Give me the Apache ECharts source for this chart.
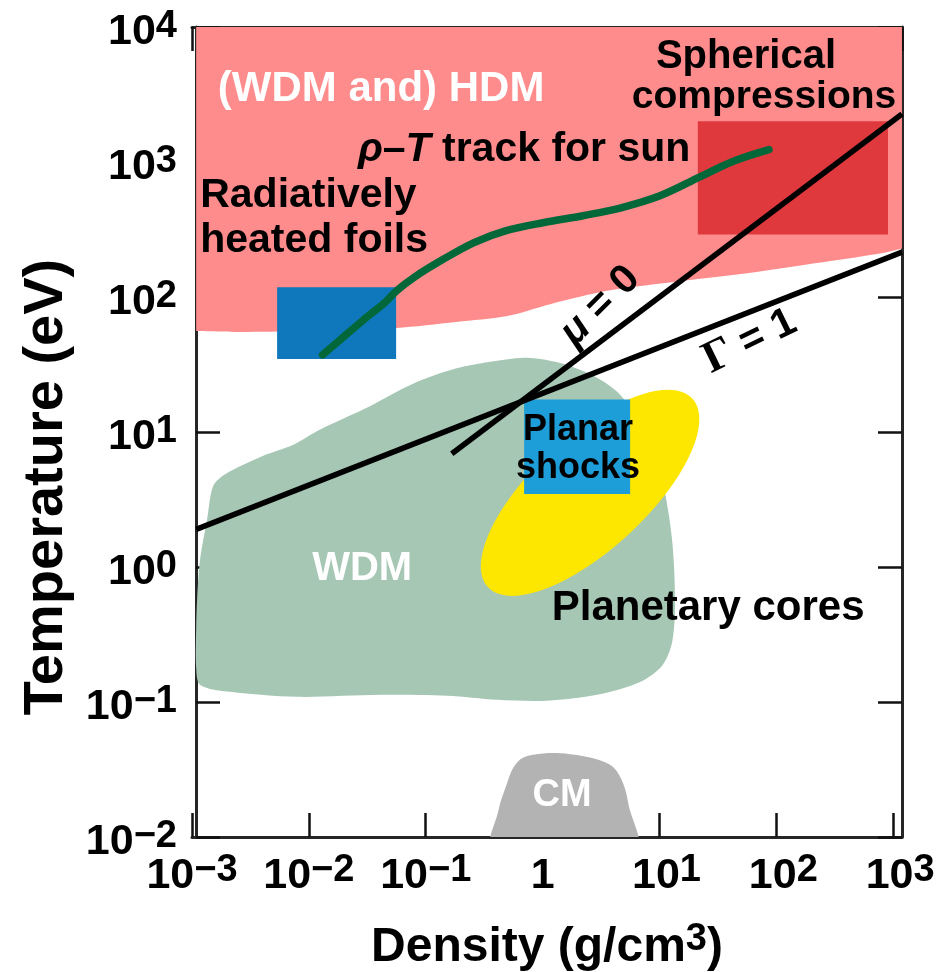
<!DOCTYPE html>
<html>
<head>
<meta charset="utf-8">
<script src="https://cdn.jsdelivr.net/npm/echarts@6/dist/echarts.min.js"></script>
<style>
  html, body { margin: 0; padding: 0; background: #ffffff; }
  #chart { width: 941px; height: 972px; }
</style>
</head>
<body>
<div id="chart"></div>
<script>
// Density–temperature map of matter regimes (density in g/cm3, temperature in eV)

// Axis extents
const densityRange = [0.001, 1190];
const temperatureRange = [0.01, 10000];

// Lower edge of the hot-dense-matter (HDM) region; the region fills up to the top
const hdmRho = [0.001086, 0.00258, 0.00843, 0.0558, 0.182, 0.497, 1.16, 3.78, 15.0, 56.1, 206, 771, 1189];
const hdmT   = [56.0, 55.1, 56.0, 58.9, 65.2, 72.2, 88.5, 112, 131, 150, 177, 210, 229];

// Warm-dense-matter (WDM) outline
const wdmRho = [0.001107, 0.001175, 0.001349, 0.001518, 0.001923, 0.00398, 0.00719, 0.0125, 0.0291, 0.078, 0.178,
                0.408, 0.782, 1.497, 2.93, 4.60, 7.53, 10.5, 12.8, 13.6, 12.8, 10.5, 6.82, 2.93, 1.09, 0.408,
                0.1525, 0.0407, 0.00794, 0.00212, 0.001175, 0.001086, 0.001086];
const wdmT   = [0.585, 1.153, 2.27, 3.98, 4.87, 6.61, 7.97, 10.45, 14.67, 22.8, 29.4,
                33.7, 35.4, 32.0, 25.2, 18.9, 10.45, 4.48, 1.62, 0.538, 0.273, 0.185, 0.1408, 0.113, 0.1021, 0.1038,
                0.1111, 0.113, 0.1092, 0.1189, 0.1338, 0.1786, 0.352];

// Condensed-matter (CM) outline
const cmRho = [0.379, 0.419, 0.494, 0.563, 0.685, 1.016, 1.72, 2.91, 4.03, 4.91, 5.42, 6.19];
const cmT   = [0.008, 0.01573, 0.0247, 0.03277, 0.0388, 0.0416, 0.0411, 0.0377, 0.0328, 0.0247, 0.01758, 0.008];

// Planetary cores: ends of the long axis, then one end of the short axis
const coresRho = [0.340, 19.1, 5.47];
const coresT   = [0.710, 17.7, 1.75];

// Experimental platforms (density range, temperature range)
const foilsRho = [0.00535, 0.0558];
const foilsT   = [34.8, 118];
const shocksRho = [0.695, 5.61];
const shocksT   = [3.47, 17.4];
const sphericalRho = [21.3, 903];
const sphericalT   = [290, 2004];

// Degeneracy (mu = 0) and coupling (Gamma = 1) boundaries
const muRho = [0.167, 1190];
const muT   = [6.9, 2270];
const gammaRho = [0.001086, 1190];
const gammaT   = [1.90, 215];

// Solar interior rho–T track
const sunRho = [0.0131, 0.0185, 0.0292, 0.0441, 0.0569, 0.0796, 0.141, 0.259, 0.488, 1.03, 2.22, 4.69, 10.1, 22.2, 43.4, 86.5];
const sunT   = [37.3, 48.1, 67.5, 90.0, 112, 140, 190, 253, 310, 356, 400, 458, 562, 775, 1017, 1236];

// Annotations: text and anchor (density, temperature)
const noteText = ['(WDM and) HDM', 'Spherical', 'compressions', '{it|ρ}{n|–}{it|T}{n| track for sun}',
                  'Radiatively\nheated foils', 'Planar\nshocks', 'WDM', 'Planetary cores', 'CM',
                  '{it|μ}{n| = 0}', '{gm|Γ}{n| = 1}'];
const noteRho = [0.0415, 55.0, 78.5, 0.695, 0.001175, 2.01, 0.0286, 26.1, 1.47, 3.10, 59.6];
const noteT   = [3448, 6035, 3000, 1230, 383, 7.44, 0.973, 0.4935, 0.02037, 86.0, 47.0];

// ---------------------------------------------------------------------------
const FONT = '"Liberation Sans", Arial, Helvetica, sans-serif';
const SERIF = '"Liberation Serif", "DejaVu Serif", serif';

const noteStyle = [
  { size: 42, color: '#ffffff' },
  { size: 40, color: '#000000' },
  { size: 39, color: '#000000' },
  { size: 41, color: '#000000' },
  { size: 41, color: '#000000', align: 'left', lineHeight: 45 },
  { size: 36, color: '#000000', lineHeight: 38 },
  { size: 40, color: '#ffffff' },
  { size: 42, color: '#000000' },
  { size: 38, color: '#ffffff' },
  { size: 41, color: '#000000', rotate: 45 },
  { size: 41, color: '#000000', rotate: 26 }
];

function richFor(size, color) {
  return {
    n:  { fontFamily: FONT, fontSize: size, fontWeight: 'bold', color: color },
    it: { fontFamily: FONT, fontSize: size, fontWeight: 'bold', fontStyle: 'italic', color: color },
    gm: { fontFamily: SERIF, fontSize: size + 4, fontWeight: 'bold', color: color }
  };
}

function zip(a, b) { return a.map((v, i) => [v, b[i]]); }

// Decade label: 10 with a raised exponent; on the density axis 10^0 reads "1"
function powLabel(v, plainOne) {
  const e = Math.round(Math.log10(v));
  if (e === 0 && plainOne) return '{b|1}';
  const exp = e < 0 ? '\u2212' + (-e) : String(e);
  const base = (plainOne && e > 0) ? 'bp' : 'b';
  return '{' + base + '|10}{s|' + exp + '}';
}

const tickRich = {
  b:  { fontFamily: FONT, fontSize: 43, fontWeight: 'bold', color: '#000', lineHeight: 48 },
  bp: { fontFamily: FONT, fontSize: 43, fontWeight: 'bold', color: '#000', lineHeight: 48, padding: [0, 0, 0, 14] },
  s:  { fontFamily: FONT, fontSize: 38, fontWeight: 'bold', color: '#000', lineHeight: 20, verticalAlign: 'top' }
};

const frameLine = { show: true, onZero: false, lineStyle: { color: '#262626', width: 3 } };
const innerTick = { show: true, inside: true, length: 24, lineStyle: { color: '#111111', width: 2.5 } };

function polygonSeries(name, rho, t, color, z, smooth) {
  return {
    type: 'custom', name: name, z: z, silent: true, clip: true,
    data: [[1, 1]],
    renderItem: function (params, api) {
      return {
        type: 'polygon',
        shape: { points: rho.map((r, i) => api.coord([r, t[i]])), smooth: smooth },
        style: { fill: color }
      };
    }
  };
}

function rectSeries(name, rho, t, color, z) {
  return {
    type: 'custom', name: name, z: z, silent: true, clip: true,
    data: [[1, 1]],
    renderItem: function (params, api) {
      const a = api.coord([rho[0], t[1]]);
      const b = api.coord([rho[1], t[0]]);
      return {
        type: 'rect',
        shape: { x: a[0], y: a[1], width: b[0] - a[0], height: b[1] - a[1] },
        style: { fill: color }
      };
    }
  };
}

function ellipseSeries(name, rho, t, color, z) {
  return {
    type: 'custom', name: name, z: z, silent: true, clip: true,
    data: [[1, 1]],
    renderItem: function (params, api) {
      const p1 = api.coord([rho[0], t[0]]);
      const p2 = api.coord([rho[1], t[1]]);
      const pm = api.coord([rho[2], t[2]]);
      const cx = (p1[0] + p2[0]) / 2, cy = (p1[1] + p2[1]) / 2;
      const rx = Math.hypot(p2[0] - p1[0], p2[1] - p1[1]) / 2;
      const ry = Math.hypot(pm[0] - cx, pm[1] - cy);
      const ang = Math.atan2(-(p2[1] - p1[1]), p2[0] - p1[0]);
      return {
        type: 'ellipse',
        x: cx, y: cy, rotation: ang,
        shape: { cx: 0, cy: 0, rx: rx, ry: ry },
        style: { fill: color }
      };
    }
  };
}

function boundarySeries(name, rho, t, z) {
  return {
    type: 'line', name: name, z: z, silent: true, symbol: 'none', clip: true,
    data: zip(rho, t),
    lineStyle: { color: '#000000', width: 5.5 }
  };
}

const chart = echarts.init(document.getElementById('chart'), null, { renderer: 'canvas' });

chart.setOption({
  animation: false,
  backgroundColor: '#ffffff',
  textStyle: { fontFamily: FONT },
  grid: { left: 192, right: 39, top: 27, bottom: 135, containLabel: false, outerBoundsMode: 'none' },
  xAxis: [
    {
      type: 'log', logBase: 10, min: densityRange[0], max: densityRange[1], position: 'bottom',
      axisLine: frameLine, axisTick: innerTick, splitLine: { show: false },
      minorTick: { show: false }, minorSplitLine: { show: false },
      axisLabel: {
        show: true, margin: 15, fontSize: 43, rich: tickRich,
        showMinLabel: true, showMaxLabel: false,
        formatter: v => powLabel(v, true)
      },
      name: '{a|Density (g/cm}{s|3}{a|)}', nameLocation: 'middle', nameGap: 84,
      nameTextStyle: {
        rich: {
          a: { fontFamily: FONT, fontSize: 48, fontWeight: 'bold', color: '#000', lineHeight: 54 },
          s: { fontFamily: FONT, fontSize: 38, fontWeight: 'bold', color: '#000', lineHeight: 26, verticalAlign: 'top' }
        }
      }
    },
    {
      type: 'log', logBase: 10, min: densityRange[0], max: densityRange[1], position: 'top',
      axisLine: frameLine, axisTick: innerTick, splitLine: { show: false },
      axisLabel: { show: false }
    }
  ],
  yAxis: [
    {
      type: 'log', logBase: 10, min: temperatureRange[0], max: temperatureRange[1], position: 'left', offset: -4,
      axisLine: frameLine, axisTick: innerTick, splitLine: { show: false },
      minorTick: { show: false }, minorSplitLine: { show: false },
      axisLabel: {
        show: true, margin: 19, fontSize: 43, rich: tickRich, padding: [10, 0, 0, 0],
        showMinLabel: true, showMaxLabel: true,
        formatter: v => powLabel(v, false)
      },
      name: 'Temperature (eV)', nameLocation: 'middle', nameGap: 108, nameRotate: 90,
      nameTextStyle: { fontFamily: FONT, fontSize: 56, fontWeight: 'bold', color: '#000', padding: [0, 110, 0, 0] }
    },
    {
      type: 'log', logBase: 10, min: temperatureRange[0], max: temperatureRange[1], position: 'right',
      axisLine: frameLine, axisTick: innerTick, splitLine: { show: false },
      axisLabel: { show: false }
    }
  ],
  series: [
    {
      type: 'line', name: 'HDM', z: 1, silent: true, symbol: 'none', smooth: 0.3, clip: true,
      data: zip(hdmRho, hdmT),
      lineStyle: { width: 0, opacity: 0 },
      areaStyle: { color: '#fe8c8c', opacity: 1, origin: 'end' }
    },
    rectSeries('Spherical compressions', sphericalRho, sphericalT, '#df393e', 2),
    rectSeries('Radiatively heated foils', foilsRho, foilsT, '#0f77bc', 3),
    polygonSeries('WDM', wdmRho, wdmT, '#a5c7b4', 4, 0.3),
    polygonSeries('CM', cmRho, cmT, '#b3b3b3', 4, 0.35),
    ellipseSeries('Planetary cores', coresRho, coresT, '#fde600', 5),
    rectSeries('Planar shocks', shocksRho, shocksT, '#1e9ed9', 6),
    boundarySeries('mu = 0', muRho, muT, 7),
    boundarySeries('Gamma = 1', gammaRho, gammaT, 7),
    {
      type: 'line', name: 'Sun', z: 8, silent: true, symbol: 'none', smooth: 0.35, clip: true,
      data: zip(sunRho, sunT),
      lineStyle: { color: '#02683a', width: 7.5, cap: 'round', join: 'round' }
    },
    {
      type: 'scatter', name: 'notes', z: 10, silent: true, symbol: 'circle', symbolSize: 1,
      itemStyle: { color: 'rgba(0,0,0,0)', opacity: 1 },
      labelLayout: { hideOverlap: false },
      data: noteRho.map((r, i) => ({
        value: [r, noteT[i]],
        label: {
          show: true, position: 'inside', opacity: 1,
          fontFamily: FONT, fontWeight: 'bold',
          fontSize: noteStyle[i].size, color: noteStyle[i].color,
          textBorderWidth: 0,
          align: noteStyle[i].align || 'center', verticalAlign: 'middle',
          lineHeight: noteStyle[i].lineHeight || Math.round(noteStyle[i].size * 1.15),
          rotate: noteStyle[i].rotate || 0,
          rich: richFor(noteStyle[i].size, noteStyle[i].color)
        }
      })),
      label: { show: true, position: 'inside', opacity: 1, formatter: p => noteText[p.dataIndex] }
    }
  ]
});
</script>
</body>
</html>
